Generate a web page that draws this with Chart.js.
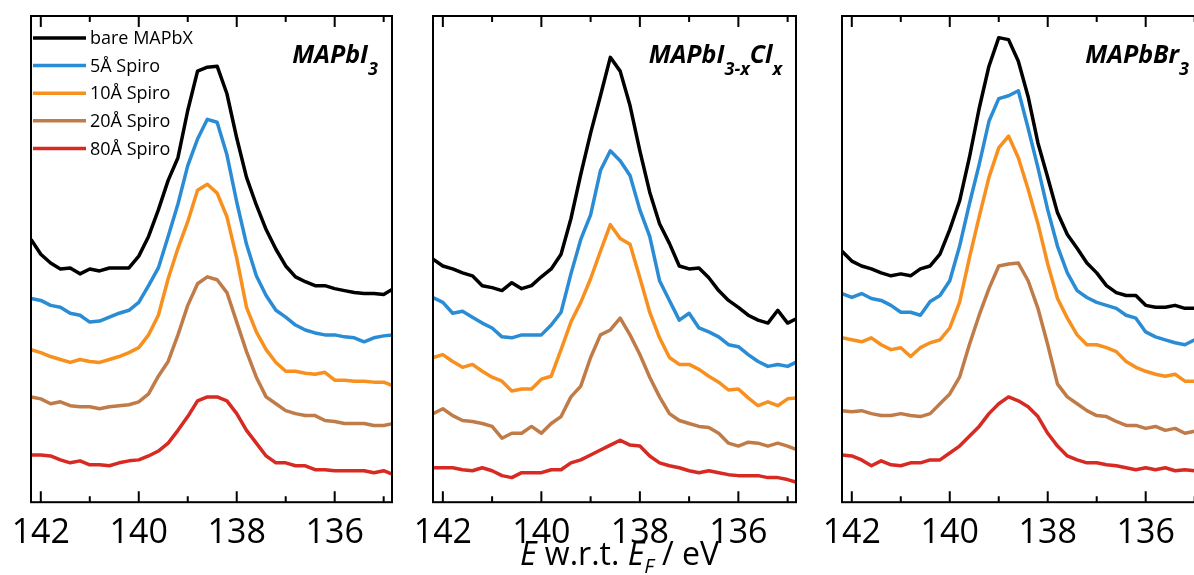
<!DOCTYPE html>
<html>
<head>
<meta charset="utf-8">
<script src="https://cdn.jsdelivr.net/npm/chart.js@4.4.0/dist/chart.umd.min.js"></script>
<style>
  body { margin: 0; background: #fff; width: 1194px; height: 575px; overflow: hidden; position: relative; }
  .panel { position: absolute; top: 0; height: 575px; }
</style>
</head>
<body>
<div class="panel" style="left:0;width:422px"><canvas id="c1"></canvas></div>
<div class="panel" style="left:402px;width:424px"><canvas id="c2"></canvas></div>
<div class="panel" style="left:811px;width:422px"><canvas id="c3"></canvas></div>
<script>
// binding energy (eV), same grid for all three panels
var energy = [142.2, 142.0, 141.8, 141.6, 141.4, 141.2, 141.0, 140.8, 140.6, 140.4,
  140.2, 140.0, 139.8, 139.6, 139.4, 139.2, 139.0, 138.8, 138.6, 138.4,
  138.2, 138.0, 137.8, 137.6, 137.4, 137.2, 137.0, 136.8, 136.6, 136.4,
  136.2, 136.0, 135.8, 135.6, 135.4, 135.2, 135.0, 134.8];
var tickLabels = [142, 140, 138, 136];
var tickMarks = [142, 141, 140, 139, 138, 137, 136, 135];
var seriesNames = ['bare MAPbX', '5Å Spiro', '10Å Spiro', '20Å Spiro', '80Å Spiro'];
var seriesColors = ['#000000', '#2a8cd4', '#f7901e', '#c07c48', '#d62a22'];

// MAPbI3 (offset intensity, a.u.)
var i3_bare = [267,252,243,237,238,232,237,235,238,238,238,250,270,297,327,350,398,438,442,443,415,370,330,302,277,257,240,229,224,220,220,217,215,213,212,212,211,217];
var i3_5 = [207,205,200,198,192,190,183,184,188,192,195,203,220,238,270,303,342,369,389,386,353,305,262,230,210,195,188,180,175,172,170,170,168,167,163,167,169,170];
var i3_10 = [155,152,148,145,142,145,143,142,145,148,152,157,170,190,227,258,285,317,323,314,290,248,198,173,155,142,133,133,131,130,132,124,124,123,123,122,122,118];
var i3_20 = [107,105,100,102,98,97,97,95,97,98,99,102,110,128,143,170,200,222,229,226,213,183,153,127,107,100,93,90,88,88,83,82,80,80,80,78,78,80];
var i3_80 = [48,48,47,43,40,42,38,38,37,40,42,43,47,52,60,73,87,103,107,107,103,90,73,60,47,40,40,37,37,33,33,32,32,32,32,30,32,28];

// MAPbI3-xClx
var cl_bare = [247,240,237,233,230,220,218,215,223,217,220,229,237,252,288,333,375,413,452,438,403,357,315,283,263,240,237,238,228,215,205,198,190,185,182,195,182,187];
var cl_5 = [208,203,192,194,188,182,177,168,167,170,170,170,180,193,232,267,292,337,357,347,332,297,270,225,205,185,192,177,173,168,160,158,150,143,138,140,138,143];
var cl_10 = [147,150,143,137,140,133,127,123,113,115,115,125,128,155,183,203,227,255,282,268,262,228,193,167,147,140,140,135,128,122,114,115,106,98,102,98,105,106];
var cl_20 = [90,95,88,83,82,80,77,65,70,70,77,70,80,87,107,118,147,170,175,187,170,150,127,107,90,83,80,77,76,70,60,57,61,60,57,60,57,53];
var cl_80 = [35,35,35,33,32,35,32,27,25,30,30,30,33,33,40,43,48,53,58,63,58,57,47,40,37,35,32,30,32,30,28,27,27,27,25,25,23,20];

// MAPbBr3
var br_bare = [255,245,240,237,233,230,232,230,237,240,252,277,306,350,400,443,472,470,448,412,365,330,294,272,258,243,233,220,213,210,210,200,198,198,200,197,197,197];
var br_5 = [212,208,212,207,205,200,193,193,190,204,210,225,260,303,343,387,410,413,418,380,340,297,260,233,215,208,203,200,197,190,187,173,168,165,162,160,165,167];
var br_10 = [167,165,163,167,160,155,157,148,157,162,165,177,203,248,290,330,360,372,350,318,283,242,207,187,170,160,160,157,153,143,137,133,130,128,130,123,123,125];
var br_20 = [93,92,93,90,88,88,90,88,87,90,100,110,127,160,190,217,240,242,243,225,197,160,120,107,100,93,88,87,82,78,78,75,77,73,75,70,72,74];
var br_80 = [48,47,43,37,42,38,37,40,40,43,43,50,57,67,77,90,100,107,103,97,87,70,57,47,43,40,40,38,37,35,33,35,33,35,32,33,32,32];

var FONT = "'Open Sans', 'DejaVu Sans', sans-serif";

// box round the plot with inward ticks on top and bottom
var framePlugin = {
  id: 'frame',
  afterDatasetsDraw: function (chart) {
    var ctx = chart.ctx, a = chart.chartArea, x = chart.scales.x;
    ctx.save();
    ctx.strokeStyle = '#000';
    ctx.lineWidth = 2;
    ctx.strokeRect(a.left, a.top, a.right - a.left, a.bottom - a.top);
    tickMarks.forEach(function (v) {
      var px = x.getPixelForValue(v);
      var len = v % 2 === 0 ? 11 : 6;
      ctx.beginPath();
      ctx.moveTo(px, a.bottom); ctx.lineTo(px, a.bottom - len);
      ctx.moveTo(px, a.top); ctx.lineTo(px, a.top + len);
      ctx.stroke();
    });
    ctx.restore();
  }
};

// text made of parts, some of them subscript
function drawParts(ctx, parts, x, y, align, size, subSize, subDrop, weight) {
  var w = 0;
  parts.forEach(function (p) {
    ctx.font = (p.italic ? 'italic ' : '') + weight + ' ' + (p.sub ? subSize : size) + 'px ' + FONT;
    p.w = ctx.measureText(p.t).width;
    w += p.w;
  });
  var cx = align === 'right' ? x - w : x;
  parts.forEach(function (p) {
    ctx.font = (p.italic ? 'italic ' : '') + weight + ' ' + (p.sub ? subSize : size) + 'px ' + FONT;
    ctx.fillText(p.t, cx, y + (p.sub ? subDrop : 0));
    cx += p.w;
  });
}

var labelPlugin = {
  id: 'panelText',
  afterDraw: function (chart, args, opts) {
    var ctx = chart.ctx, a = chart.chartArea;
    ctx.save();
    ctx.fillStyle = '#000';
    ctx.textBaseline = 'alphabetic';
    ctx.textAlign = 'left';
    if (opts.title) drawParts(ctx, opts.title, a.right - 14, a.top + 47, 'right', 25, 18, 12, 'bold');
    if (opts.axisTitle) drawParts(ctx, opts.axisTitle, a.left + 87, a.bottom + 63, 'left', 32, 20, 8, 'normal');
    if (opts.legend) {
      ctx.textBaseline = 'middle';
      chart.data.datasets.forEach(function (ds, i) {
        var y = a.top + 22 + i * 27.6;
        ctx.strokeStyle = ds.borderColor;
        ctx.lineWidth = 3.5;
        ctx.beginPath();
        ctx.moveTo(a.left + 2, y); ctx.lineTo(a.left + 55, y);
        ctx.stroke();
        ctx.font = '18px ' + FONT;
        ctx.fillText(ds.label, a.left + 59, y + 1);
      });
    }
    ctx.restore();
  }
};

function makeChart(id, series, text) {
  var datasets = series.map(function (vals, i) {
    return {
      label: seriesNames[i],
      data: vals,
      borderColor: seriesColors[i],
      backgroundColor: seriesColors[i],
      borderWidth: 3.5,
      borderJoinStyle: 'round',
      pointRadius: 0,
      tension: 0,
      fill: false
    };
  });
  return new Chart(document.getElementById(id), {
    type: 'line',
    data: { labels: energy, datasets: datasets },
    options: {
      responsive: true,
      maintainAspectRatio: false,
      animation: false,
      layout: { padding: { left: 31, right: 30, top: 16, bottom: 18 } },
      plugins: {
        legend: { display: false },
        tooltip: { enabled: false },
        panelText: text
      },
      scales: {
        x: {
          type: 'linear',
          reverse: true,
          min: 134.83,
          max: 142.2,
          afterBuildTicks: function (s) {
            s.ticks = tickLabels.map(function (v) { return { value: v }; });
          },
          grid: { display: false },
          border: { display: false },
          ticks: {
            color: '#000',
            padding: 3,
            maxRotation: 0,
            font: { family: FONT, size: 34 }
          }
        },
        y: {
          display: false,
          min: 0,
          max: 494
        }
      }
    },
    plugins: [framePlugin, labelPlugin]
  });
}

document.addEventListener('DOMContentLoaded', function () {
  makeChart('c1', [i3_bare, i3_5, i3_10, i3_20, i3_80], {
    legend: true,
    title: [{ t: 'MAPbI', italic: true }, { t: '3', italic: true, sub: true }]
  });
  makeChart('c2', [cl_bare, cl_5, cl_10, cl_20, cl_80], {
    title: [{ t: 'MAPbI', italic: true }, { t: '3-x', italic: true, sub: true },
            { t: 'Cl', italic: true }, { t: 'x', italic: true, sub: true }],
    axisTitle: [{ t: 'E', italic: true }, { t: ' w.r.t. ' }, { t: 'E', italic: true },
                { t: 'F', italic: true, sub: true }, { t: ' / eV' }]
  });
  makeChart('c3', [br_bare, br_5, br_10, br_20, br_80], {
    title: [{ t: 'MAPbBr', italic: true }, { t: '3', italic: true, sub: true }]
  });
});
</script>
</body>
</html>
